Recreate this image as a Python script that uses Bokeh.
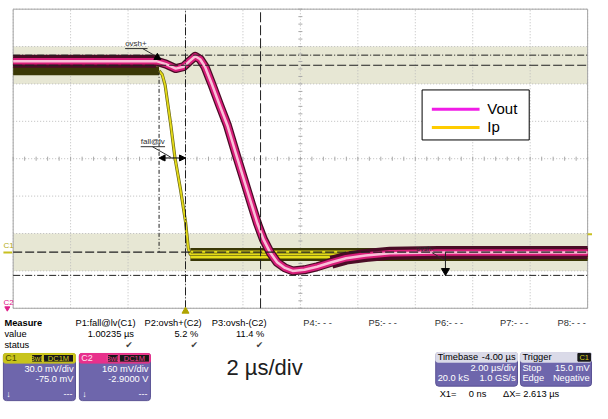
import numpy as np
from bokeh.plotting import figure
from bokeh.models import Range1d, Arrow, NormalHead
from bokeh.core.properties import value
from bokeh.embed import file_html
from bokeh.resources import INLINE

# ---------------- data: time in µs, amplitude in screen divisions ----------------
vout_t = [-6.0, -1.36, -1.02, -0.68, -0.34, -0.07, 0.14, 0.34, 0.51, 0.68, 0.92, 1.19,
          1.46, 1.76, 2.03, 2.31, 2.51, 2.71, 2.95, 3.19, 3.46, 3.73, 4.14, 4.58, 5.08,
          5.59, 6.27, 7.12, 8.81, 14.0]
vout_d = [2.61, 2.61, 2.61, 2.53, 2.41, 2.46, 2.61, 2.74, 2.66, 2.46, 1.99, 1.43,
          0.89, 0.12, -0.55, -1.25, -1.74, -2.15, -2.51, -2.77, -2.92, -3.00, -2.97, -2.89, -2.77,
          -2.66, -2.59, -2.53, -2.51, -2.51]
ip_t = [-6.0, -0.92, -0.81, -0.71, -0.51, -0.37, -0.17, 0.0, 0.10, 0.17, 0.34, 14.0]
ip_d = [2.35, 2.35, 2.25, 1.97, 0.89, 0.04, -0.84, -1.68, -2.41, -2.56, -2.56, -2.56]

cursor_t = [0.0, 2.613]          # X1 and X2 cursors (ΔX = 2.613 µs)
level_dashdot = [2.77, -3.12]
level_dash = [2.50, -2.50]
fall_span_t = [-0.92, 0.0]
ovsh_pos_t, ovsh_pos_d = [-0.98], [2.71]
ovsh_neg_t, ovsh_neg_d = [9.05], [-3.00]
band_levels = [(2.0, 3.0), (-3.0, -2.0)]

legend_labels = ["Vout", "Ip"]
meas_names = ["P1:fall@lv(C1)", "P2:ovsh+(C2)", "P3:ovsh-(C2)"]
meas_values = ["1.00235 µs", "5.2 %", "11.4 %"]
empty_params = ["P4:- - -", "P5:- - -", "P6:- - -", "P7:- - -", "P8:- - -"]

# ---------------- geometry (reference 608x419 scaled onto 592x403) ----------------
W, H = 592, 403
REF_W, REF_H = 608.0, 419.0


def t_of(xr):
    return (xr - 13) / 29.5 - 6


def d_of(yr):
    return (164.5 - yr) / 38.875


p = figure(width=W, height=H, output_backend="svg", toolbar_location=None,
           x_range=Range1d(t_of(0), t_of(REF_W)),
           y_range=Range1d(d_of(REF_H), d_of(0)),
           x_axis_location=None, y_axis_location=None, min_border=0)
p.extra_x_ranges = {"ref": Range1d(0, REF_W)}
p.extra_y_ranges = {"ref": Range1d(REF_H, 0)}
p.grid.visible = False
p.outline_line_color = None
p.background_fill_color = "white"
p.border_fill_color = "white"
R = dict(x_range_name="ref", y_range_name="ref")
FONT = "Liberation Sans"


def txt(x, y, s, size=9.3, color="#000000", align="left", bold=False, font=FONT):
    p.text(x=[x], y=[y], text=[s], text_font=value(font), text_font_size=f"{size}px",
           text_color=color, text_align=align, text_baseline="middle",
           text_font_style="bold" if bold else "normal", **R)


# ---------------- graticule ----------------
for lo, hi in band_levels:
    p.quad(left=-6, right=14, bottom=lo, top=hi, fill_color="#e7e7d4", line_color=None)

gx = np.arange(-6, 14.01, 2)
gy = np.arange(-4, 4.01, 1)
p.segment(x0=gx, y0=-4, x1=gx, y1=4, line_color="#bcbcbc", line_dash="1 2", line_width=1)
p.segment(x0=-6, y0=gy, x1=14, y1=gy, line_color="#bcbcbc", line_dash="1 2", line_width=1)
tx = np.arange(-6, 14.01, 0.4)
p.segment(x0=tx, y0=-0.055, x1=tx, y1=0.055, line_color="#a8a8a8", line_width=1)
ty = np.arange(-4, 4.01, 0.2)
p.segment(x0=4 - 0.07, y0=ty, x1=4 + 0.07, y1=ty, line_color="#a8a8a8", line_width=1)
p.quad(left=-6, right=14, bottom=-4, top=4, fill_color=None, line_color="#a4a4a4", line_width=1)

# ---------------- traces ----------------
ipt = np.array(ip_t)
ipd = np.array(ip_d)
top = ipt <= -0.92
bot = ipt >= 0.17
live = ipt >= -0.92
p.line(ipt[top], ipd[top], line_color="#3a3806", line_width=9)
p.line(ipt[bot], ipd[bot], line_color="#3a3806", line_width=13)
p.line(ipt[bot], ipd[bot], line_color="#e6de1a", line_width=8)
p.line(ipt[bot], ipd[bot], line_color="#fbf7b0", line_width=3)
p.line(ipt[live], ipd[live], line_color="#6a6814", line_width=3.2, line_join="round")
p.line(ipt[live], ipd[live], line_color="#e4da18", line_width=1.8, line_join="round")

vt = np.array(vout_t)
vd = np.array(vout_d)
flat_l = vt <= -1.02
flat_r = vt >= 5.08
p.line(vt[flat_l], vd[flat_l], line_color="#4a0c26", line_width=13)
p.line(vt[flat_r], vd[flat_r], line_color="#4a0c26", line_width=13)
p.line(vt, vd, line_color="#4a0c26", line_width=9, line_join="round")
p.line(vt, vd, line_color="#d81e7a", line_width=6.5, line_join="round")
p.line(vt, vd, line_color="#f9c0d8", line_width=2.5, line_join="round")

# ---------------- cursors & measurement markers ----------------
p.segment(x0=-6, y0=level_dashdot, x1=14, y1=level_dashdot, line_color="#202020",
          line_dash="7 2 1 2", line_width=1)
p.segment(x0=-6, y0=level_dash, x1=14, y1=level_dash, line_color="#202020",
          line_dash="9 3", line_width=1.2)
p.segment(x0=cursor_t[0], y0=-4, x1=cursor_t[0], y1=4, line_color="#202020",
          line_dash="8 2 1 2", line_width=1)
p.segment(x0=cursor_t[1], y0=-4, x1=cursor_t[1], y1=4, line_color="#202020",
          line_dash="10 3", line_width=1)
p.segment(x0=fall_span_t[0], y0=ip_d[0], x1=fall_span_t[0], y1=level_dash[1],
          line_color="#202020", line_dash="4 2 1 2", line_width=1)
p.add_layout(Arrow(start=NormalHead(size=6, fill_color="black", line_color="black"),
                   end=NormalHead(size=6, fill_color="black", line_color="black"),
                   x_start=fall_span_t[0], y_start=0.02, x_end=fall_span_t[1], y_end=0.02,
                   line_color="black", line_width=1))
p.scatter(ovsh_pos_t, ovsh_pos_d, marker="triangle", size=7, color="black")
p.segment(x0=ovsh_neg_t, y0=level_dash[1], x1=ovsh_neg_t, y1=ovsh_neg_d,
          line_color="#202020", line_width=1)
p.scatter(ovsh_neg_t, ovsh_neg_d, marker="inverted_triangle", size=8, color="black")

# labels on the screen
txt(128, 45, "ovsh+", size=8, color="#303030")
p.segment(x0=[128, 146], y0=[50, 50], x1=[151, 158], y1=[50, 57], line_color="#303030", **R)
txt(144, 147, "fall@lv", size=8, color="#303030")
p.segment(x0=[144, 156], y0=[152, 152], x1=[169, 175], y1=[152, 163], line_color="#303030", **R)
txt(427, 258, "ovsh-", size=7, color="#303030")
p.segment(x0=[443], y0=[262], x1=[456], y1=[270], line_color="#303030", **R)

txt(3, 255, "C1", size=8, color="#b4ac10")
p.segment(x0=[3], y0=[262], x1=[12], y1=[262], line_color="#c8c020", line_width=2, **R)
txt(3, 314, "C2", size=8, color="#e0208a")
p.scatter([7], [320], marker="inverted_triangle", size=5, color="#e0208a", **R)
p.segment(x0=[603], y0=[243], x1=[608], y1=[243], line_color="#c8c020", line_width=2, **R)
p.scatter([190], [323], marker="triangle", size=7, color="#b0a400", **R)

# ---------------- legend ----------------
p.quad(left=[433], right=[543], top=[93], bottom=[145], fill_color="white",
       line_color="black", line_width=1, **R)
p.segment(x0=[443, 443], y0=[113, 132], x1=[492, 492], y1=[113, 132],
          line_color=["#f01ce6", "#ffcc00"], line_width=3, **R)
txt(500, 112, legend_labels[0], size=15)
txt(500, 131, legend_labels[1], size=15)

# ---------------- measurement table ----------------
txt(4, 335, "Measure", size=9.3, bold=True)
txt(4, 347, "value", size=9.3)
txt(4, 358, "status", size=9.3)
name_x = [77, 148, 217]
value_x = [137, 203, 271]
check_x = [132, 199, 266]
for i in range(3):
    txt(name_x[i], 335, meas_names[i])
    txt(value_x[i], 347, meas_values[i], align="right")
    txt(check_x[i], 358, "✔", size=9, color="#404040", align="center", font="DejaVu Sans")
empty_x = [311, 378, 446, 513, 572]
for i, s in enumerate(empty_params):
    txt(empty_x[i], 335, s, color="#303030")

# ---------------- channel boxes ----------------
PURPLE = "#6e66ac"


def chan_box(x0, x1, strip_color, name, name_color, badge_text_color, l1, l2):
    p.quad(left=[x0], right=[x1], top=[367], bottom=[416], fill_color=PURPLE,
           line_color="#5a5294", border_radius=3, **R)
    p.quad(left=[x0], right=[x1], top=[367], bottom=[377], fill_color=strip_color,
           line_color=strip_color, border_radius=2, **R)
    txt(x0 + 2, 372, name, size=9, color=name_color)
    p.quad(left=[x0 + 29, x0 + 41], right=[x0 + 40, x0 + 72], top=[368, 368],
           bottom=[376, 376], fill_color="#181818", line_color=badge_text_color, **R)
    txt(x0 + 34.5, 372, "BwL", size=7.5, color=badge_text_color, align="center")
    txt(x0 + 56.5, 372, "DC1M", size=7.5, color=badge_text_color, align="center")
    txt(x1 - 2, 383, l1, color="white", align="right")
    txt(x1 - 2, 394, l2, color="white", align="right")
    txt(x0 + 3, 409, "↓", size=9, color="white")
    txt(x1 - 3, 409, "---", size=9, color="white", align="right")


chan_box(3, 77, "#c8c41c", "C1", "#4a4600", "#d8d020", "30.0 mV/div", "-75.0 mV")
chan_box(81, 154, "#e8308c", "C2", "#ffe0f0", "#f04090", "160 mV/div", "-2.9000 V")

txt(232, 382, "2 µs/div", size=22, color="#202020")

# timebase / trigger boxes
for x0, x1 in [(447, 531), (534, 607)]:
    p.quad(left=[x0], right=[x1], top=[366], bottom=[401], fill_color=PURPLE,
           line_color="#5a5294", border_radius=3, **R)
    p.quad(left=[x0], right=[x1], top=[366], bottom=[376], fill_color="#dadae8",
           line_color="#dadae8", border_radius=2, **R)
txt(449, 371, "Timebase")
txt(529, 371, "-4.00 µs", align="right")
txt(529, 382, "2.00 µs/div", color="white", align="right")
txt(449, 392, "20.0 kS", color="white")
txt(529, 392, "1.0 GS/s", color="white", align="right")
txt(536, 371, "Trigger")
p.quad(left=[593], right=[606], top=[367], bottom=[375], fill_color="#181818",
       line_color="#181818", **R)
txt(599.5, 371, "C1", size=7.5, color="#d8d020", align="center")
txt(536, 382, "Stop", color="white")
txt(605, 382, "15.0 mV", color="white", align="right")
txt(536, 392, "Edge", color="white")
txt(605, 392, "Negative", color="white", align="right")

txt(451, 409, "X1=")
txt(499, 409, "0 ns", align="right")
txt(516, 409, "ΔX=")
txt(537, 409, "2.613 µs")

open("out.html", "w").write(file_html(p, INLINE))
